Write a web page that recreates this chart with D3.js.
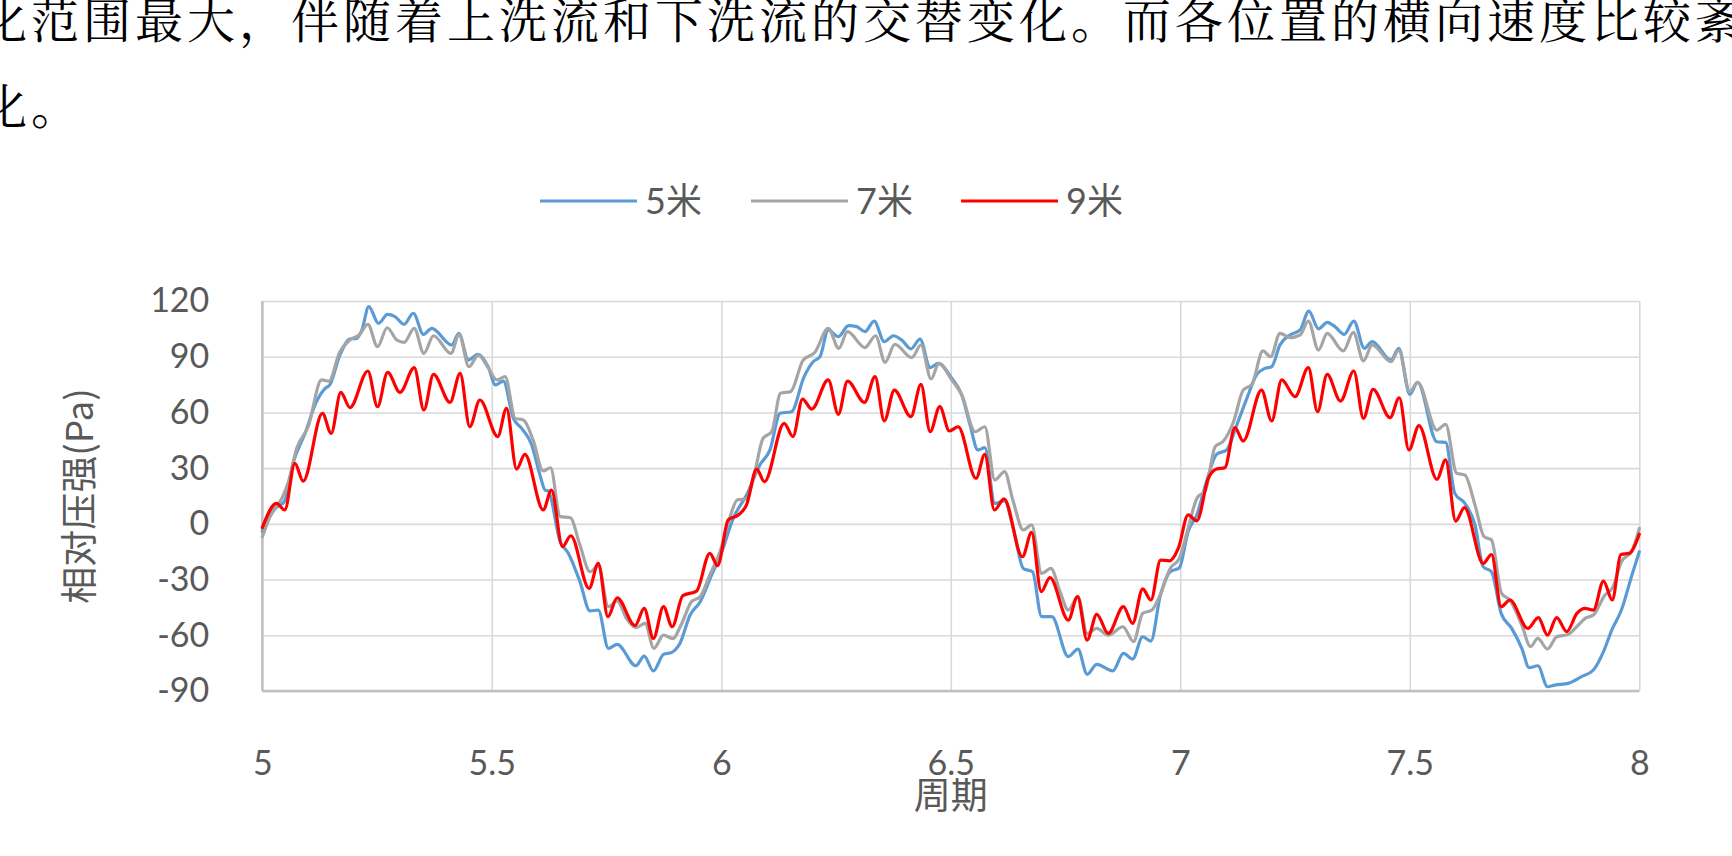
<!DOCTYPE html>
<html>
<head>
<meta charset="utf-8">
<script src="https://cdn.jsdelivr.net/npm/d3@7"></script>
<style>
  body { margin: 0; background: #fff; }
  .container { width: 1732px; height: 856px; overflow: hidden; }
</style>
</head>
<body>
<div class="container"></div>
<script>
// period, relative pressure (Pa)
const series5m = [
  [5.0, -4], [5.028, 8.3], [5.048, 12], [5.068, 33.5], [5.093, 48.7], [5.118, 65.8], [5.137, 73], [5.147, 74.8],
  [5.169, 90.9], [5.191, 99.5], [5.206, 99.9], [5.217, 104.4], [5.232, 117], [5.253, 108], [5.273, 112.8], [5.289, 111.6],
  [5.309, 107.4], [5.329, 113.4], [5.351, 102], [5.369, 105.3], [5.413, 96.3], [5.428, 102.6], [5.449, 88.2], [5.47, 91.3],
  [5.492, 84.6], [5.508, 74.8], [5.525, 76.9], [5.547, 56.8], [5.565, 51.4], [5.587, 42.5], [5.605, 26.3], [5.616, 18.2],
  [5.623, 17.7], [5.649, -9.6], [5.667, -15.9], [5.692, -31.1], [5.714, -46.9], [5.732, -46.4], [5.754, -67], [5.773, -64.9],
  [5.814, -76.4], [5.832, -71.2], [5.852, -79.2], [5.874, -70.3], [5.892, -69.2], [5.91, -64.3], [5.932, -49.1], [5.954, -41.9],
  [5.979, -27.5], [6.001, -15], [6.026, 3], [6.055, 15.5], [6.084, 31.7], [6.106, 39.8], [6.128, 59.5], [6.153, 60.4],
  [6.18, 79], [6.2, 87.3], [6.215, 90], [6.233, 104.4], [6.255, 100.8], [6.277, 106.7], [6.295, 106.2], [6.313, 103.5],
  [6.333, 109.2], [6.355, 98.1], [6.375, 101.3], [6.393, 99], [6.413, 94.2], [6.433, 99.5], [6.455, 84.1], [6.473, 86.4],
  [6.502, 78.4], [6.524, 69.4], [6.542, 53.2], [6.559, 39.8], [6.574, 41], [6.596, 11], [6.617, 12.3], [6.636, -2.4],
  [6.658, -24], [6.678, -25.8], [6.698, -50], [6.72, -50], [6.756, -71.5], [6.777, -67.4], [6.797, -81], [6.818, -75.7],
  [6.853, -79.2], [6.876, -69.7], [6.896, -72.8], [6.918, -60.8], [6.936, -63.1], [6.956, -39.2], [6.978, -25.8], [6.998, -23.6],
  [7.017, -4.2], [7.036, 4.8], [7.057, 22.7], [7.079, 37.4], [7.101, 39.8], [7.123, 53.2], [7.145, 67.6], [7.166, 80.2],
  [7.184, 83.7], [7.199, 84.6], [7.217, 96.3], [7.239, 101.7], [7.261, 104.4], [7.28, 114.6], [7.301, 105], [7.32, 108.5],
  [7.337, 106.2], [7.357, 102], [7.378, 109.2], [7.401, 94.5], [7.418, 98.1], [7.459, 88.2], [7.476, 94.5], [7.5, 69.7],
  [7.517, 76.2], [7.559, 44.2], [7.578, 43.9], [7.598, 16.4], [7.62, 11], [7.642, -0.6], [7.66, -23.1], [7.678, -25.8],
  [7.699, -48.2], [7.722, -56.3], [7.744, -67], [7.76, -77.4], [7.779, -76.4], [7.8, -87.7], [7.816, -86.8], [7.845, -85.9],
  [7.874, -82.3], [7.9, -78.7], [7.922, -68.8], [7.94, -57.2], [7.961, -46.4], [7.984, -27.5], [8.0, -15]
];

const series7m = [
  [5.0, -7], [5.02, 5.7], [5.042, 13.4], [5.057, 22.7], [5.075, 40.7], [5.1, 52.3], [5.129, 77.5], [5.145, 76.9],
  [5.169, 92.7], [5.191, 99], [5.211, 101.7], [5.23, 107.4], [5.251, 95.4], [5.272, 105.6], [5.293, 99], [5.309, 97.7],
  [5.331, 105.3], [5.352, 91.8], [5.373, 101.3], [5.411, 91.8], [5.429, 102], [5.45, 84.6], [5.471, 90.9], [5.492, 84.1],
  [5.511, 77.5], [5.529, 79.3], [5.551, 56.8], [5.569, 55.9], [5.59, 45.1], [5.612, 28.5], [5.628, 30.2], [5.649, 3.9],
  [5.671, 3.3], [5.692, -11.4], [5.714, -25.8], [5.732, -22.5], [5.754, -44.6], [5.773, -41.5], [5.794, -51.2], [5.814, -55.9],
  [5.834, -53.6], [5.853, -67], [5.874, -59.9], [5.894, -61.7], [5.914, -53.6], [5.935, -41.9], [5.954, -39.2], [5.975, -27.5],
  [5.997, -15], [6.017, 2.1], [6.035, 12.9], [6.055, 13.4], [6.07, 24.5], [6.091, 46], [6.11, 49.6], [6.129, 70.3],
  [6.151, 71.2], [6.178, 88], [6.204, 92.4], [6.233, 105.3], [6.256, 94.5], [6.275, 103.5], [6.313, 94.9], [6.336, 101.3],
  [6.357, 87], [6.378, 96.7], [6.415, 89.5], [6.435, 96.3], [6.457, 78], [6.474, 86.4], [6.502, 77.5], [6.524, 69.4],
  [6.553, 49.6], [6.574, 52.3], [6.596, 23.6], [6.617, 28.1], [6.636, 12], [6.658, -3.3], [6.676, -0.6], [6.698, -26.7],
  [6.718, -24], [6.738, -36.5], [6.756, -46.4], [6.777, -39.2], [6.797, -59], [6.818, -56.3], [6.843, -59.9], [6.875, -55.4],
  [6.898, -63.4], [6.918, -48.2], [6.938, -46.4], [6.956, -38.3], [6.978, -24], [6.998, -18.6], [7.017, -2.4], [7.036, 13.7],
  [7.055, 18.2], [7.076, 41.6], [7.094, 44.6], [7.116, 55], [7.137, 72], [7.156, 75.1], [7.18, 93.1], [7.197, 90],
  [7.217, 102.6], [7.239, 100.3], [7.261, 101.7], [7.279, 109.2], [7.301, 93.6], [7.32, 102.6], [7.355, 93.1], [7.377, 103.1],
  [7.399, 87.7], [7.418, 96.3], [7.459, 87.3], [7.476, 93.6], [7.5, 71.2], [7.517, 76.2], [7.559, 50.5], [7.578, 53.6],
  [7.602, 27.2], [7.62, 26.3], [7.642, 10.2], [7.662, -6.9], [7.678, -8.7], [7.7, -37.4], [7.718, -41], [7.744, -54.5],
  [7.763, -66.1], [7.779, -61.7], [7.8, -67.4], [7.82, -60.8], [7.845, -59.5], [7.867, -54.5], [7.882, -50.9], [7.9, -49.1],
  [7.924, -38.7], [7.943, -33.8], [7.961, -20.4], [7.984, -14.6], [8.0, -2.4]
];

const series9m = [
  [5.0, -2], [5.031, 11], [5.049, 7.5], [5.071, 32.6], [5.089, 23], [5.131, 59.5], [5.15, 48.7], [5.171, 70.8],
  [5.191, 62.6], [5.23, 82.3], [5.251, 63.1], [5.273, 81.6], [5.3, 70.8], [5.331, 84.1], [5.352, 61.3], [5.373, 80.5],
  [5.409, 65.4], [5.431, 81], [5.452, 52.3], [5.474, 66.7], [5.513, 47], [5.532, 62.2], [5.554, 29.5], [5.572, 37.4],
  [5.612, 7.5], [5.63, 18.2], [5.654, -12.3], [5.672, -6.4], [5.712, -34.7], [5.732, -21.3], [5.753, -50], [5.773, -39.8],
  [5.812, -54.8], [5.832, -45.5], [5.852, -61.7], [5.874, -44.6], [5.893, -55.4], [5.916, -38.7], [5.946, -36.2], [5.975, -15.9],
  [5.992, -22.5], [6.015, 2.1], [6.037, 4.8], [6.055, 10.2], [6.077, 29.5], [6.094, 22.7], [6.137, 54.1], [6.156, 47],
  [6.177, 67.2], [6.197, 61.8], [6.233, 77.5], [6.255, 59], [6.275, 76.9], [6.312, 65.4], [6.335, 79.3], [6.355, 55.4],
  [6.377, 72], [6.413, 57.7], [6.435, 75.1], [6.455, 49.6], [6.476, 63.1], [6.497, 50], [6.516, 52.3], [6.555, 24.5],
  [6.574, 37.4], [6.595, 7.5], [6.616, 13.4], [6.656, -17.7], [6.676, -4.6], [6.697, -36.5], [6.716, -29], [6.756, -51.8],
  [6.776, -39.2], [6.797, -62.6], [6.818, -48.7], [6.843, -59], [6.876, -44.6], [6.896, -53.6], [6.918, -35], [6.936, -41],
  [6.957, -19.5], [6.976, -19.9], [6.996, -12.9], [7.017, 4.8], [7.036, 1.6], [7.061, 24.5], [7.079, 29.5], [7.097, 30.2],
  [7.119, 51.8], [7.137, 44.6], [7.177, 72], [7.199, 55.4], [7.221, 77.5], [7.25, 68.5], [7.279, 84.1], [7.299, 60.4],
  [7.32, 80.5], [7.349, 66.1], [7.378, 82.3], [7.399, 56.8], [7.42, 72.4], [7.457, 57.2], [7.477, 67.9], [7.498, 39.8],
  [7.52, 52.9], [7.559, 24], [7.578, 34.4], [7.6, 1.5], [7.619, 8.7], [7.66, -21.3], [7.678, -16.5], [7.699, -44.6],
  [7.718, -41], [7.757, -56.3], [7.78, -50.5], [7.8, -59.9], [7.82, -50.5], [7.842, -58], [7.864, -48.2], [7.882, -45.5],
  [7.9, -46.4], [7.922, -30.8], [7.941, -41], [7.96, -16.5], [7.978, -15.9], [8.0, -5.6]
];

const seriesNames = ['5米', '7米', '9米'];
const seriesColors = ['#5b9bd5', '#a5a5a5', '#ff0000'];
const xTicks = [5, 5.5, 6, 6.5, 7, 7.5, 8];
const yTicks = [-90, -60, -30, 0, 30, 60, 90, 120];
const paragraphLines = [
  '化范围最大，伴随着上洗流和下洗流的交替变化。而各位置的横向速度比较紊乱',
  '化。'
];

const width = 1732;
const height = 856;
const plot = { left: 262.3, right: 1639.3, top: 301, bottom: 691 };
const textColor = '#595959';
const fontStack = 'Lato, "Noto Sans CJK SC", sans-serif';

const svg = d3
  .select('.container')
  .append('svg')
  .attr('width', width)
  .attr('height', height)
  .attr('viewBox', `0 0 ${width} ${height}`);

// body text above the chart (cut off at the page edges, as in the source)
svg
  .selectAll('.para')
  .data(paragraphLines)
  .enter()
  .append('text')
  .attr('class', 'para')
  .attr('x', -21)
  .attr('y', (d, i) => 38 + i * 86)
  .attr('fill', '#000')
  .style('font-family', '"Noto Serif CJK SC", "Noto Sans CJK SC", serif')
  .style('font-size', '48px')
  .style('letter-spacing', '4px')
  .text((d) => d);

const xScale = d3.scaleLinear().domain([5, 8]).range([plot.left, plot.right]);
const yScale = d3.scaleLinear().domain([-90, 120]).range([plot.bottom, plot.top]);

// gridlines
svg
  .append('g')
  .attr('class', 'grid-y')
  .attr('transform', `translate(${plot.left},0)`)
  .call(d3.axisLeft(yScale).tickValues(yTicks).tickSize(-(plot.right - plot.left)).tickFormat(''))
  .call((g) => g.select('.domain').remove())
  .selectAll('line')
  .attr('stroke', '#d9d9d9')
  .attr('stroke-width', 1.6);

svg
  .append('g')
  .attr('class', 'grid-x')
  .attr('transform', `translate(0,${plot.bottom})`)
  .call(d3.axisBottom(xScale).tickValues(xTicks).tickSize(-(plot.bottom - plot.top)).tickFormat(''))
  .call((g) => g.select('.domain').remove())
  .selectAll('line')
  .attr('stroke', '#d9d9d9')
  .attr('stroke-width', 1.6);

// axis lines
svg
  .append('line')
  .attr('x1', plot.left)
  .attr('x2', plot.left)
  .attr('y1', plot.top)
  .attr('y2', plot.bottom)
  .attr('stroke', '#bfbfbf')
  .attr('stroke-width', 2.4);
svg
  .append('line')
  .attr('x1', plot.left)
  .attr('x2', plot.right)
  .attr('y1', plot.bottom)
  .attr('y2', plot.bottom)
  .attr('stroke', '#bfbfbf')
  .attr('stroke-width', 2.4);

// tick labels (plain hyphen for negatives, like the source)
const yAxis = svg
  .append('g')
  .attr('id', 'y-axis')
  .attr('transform', `translate(${plot.left},0)`)
  .call(d3.axisLeft(yScale).tickValues(yTicks).tickSize(0).tickPadding(53).tickFormat((d) => String(d)));
yAxis.select('.domain').remove();
yAxis
  .selectAll('text')
  .attr('fill', textColor)
  .style('font-family', fontStack)
  .style('font-size', '34px');

const xAxis = svg
  .append('g')
  .attr('id', 'x-axis')
  .attr('transform', `translate(0,${plot.bottom})`)
  .call(d3.axisBottom(xScale).tickValues(xTicks).tickSize(0).tickFormat((d) => String(d)));
xAxis.select('.domain').remove();
xAxis
  .selectAll('text')
  .attr('y', 72)
  .attr('dy', '0.35em')
  .attr('fill', textColor)
  .style('font-family', fontStack)
  .style('font-size', '34px');

// axis titles
svg
  .append('text')
  .attr('transform', `translate(80,${(plot.top + plot.bottom) / 2}) rotate(-90)`)
  .attr('text-anchor', 'middle')
  .attr('dy', '0.35em')
  .attr('fill', textColor)
  .style('font-family', '"Noto Sans CJK SC", sans-serif')
  .style('font-size', '37px')
  .text('相对压强(Pa)');

svg
  .append('text')
  .attr('x', xScale(6.5))
  .attr('y', 796)
  .attr('text-anchor', 'middle')
  .attr('dy', '0.35em')
  .attr('fill', textColor)
  .style('font-family', '"Noto Sans CJK SC", sans-serif')
  .style('font-size', '37px')
  .text('周期');

// series
const line = d3
  .line()
  .x((d) => xScale(d[0]))
  .y((d) => yScale(d[1]))
  .curve(d3.curveMonotoneX);

[series5m, series7m, series9m].forEach((data, i) => {
  svg
    .append('path')
    .datum(data)
    .attr('class', 'series')
    .attr('fill', 'none')
    .attr('stroke', seriesColors[i])
    .attr('stroke-width', 3.2)
    .attr('stroke-linejoin', 'round')
    .attr('stroke-linecap', 'round')
    .attr('d', line);
});

// legend
const legendX = [540, 751, 961];
const legend = svg.append('g').attr('id', 'legend');
seriesNames.forEach((name, i) => {
  const g = legend.append('g').attr('class', 'legend-label');
  g.append('line')
    .attr('x1', legendX[i])
    .attr('x2', legendX[i] + 97)
    .attr('y1', 201)
    .attr('y2', 201)
    .attr('stroke', seriesColors[i])
    .attr('stroke-width', 3.2);
  g.append('text')
    .attr('x', legendX[i] + 105)
    .attr('y', 201)
    .attr('dy', '0.35em')
    .attr('fill', textColor)
    .style('font-family', fontStack)
    .style('font-size', '36px')
    .text(name);
});
</script>
</body>
</html>
